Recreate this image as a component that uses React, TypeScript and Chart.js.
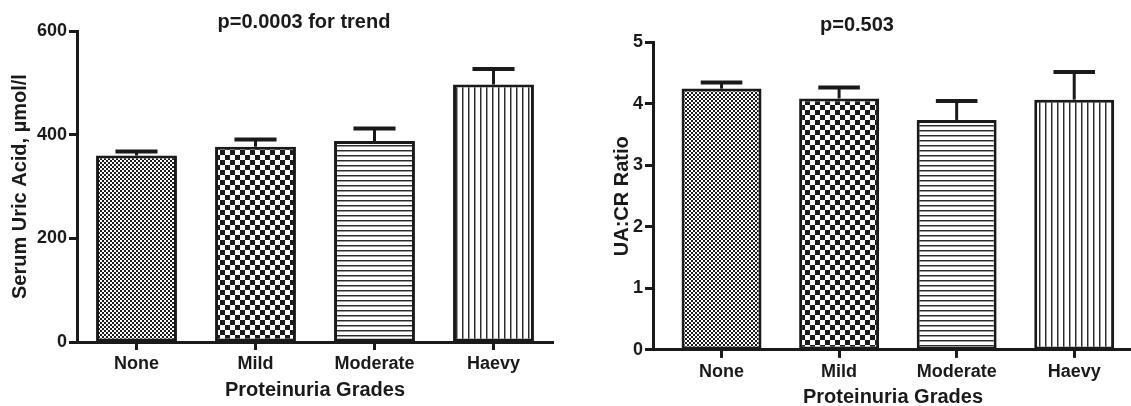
import React, { useEffect, useRef } from 'react';
import { Chart, registerables } from 'chart.js';

Chart.register(...registerables);

// ---------- data ----------
const CATEGORIES = ['None', 'Mild', 'Moderate', 'Haevy'];
const URIC_ACID_MEANS = [360, 377, 388, 497];
const URIC_ACID_ERRORS = [8, 14, 24, 30];
const UACR_MEANS = [4.25, 4.09, 3.74, 4.07];
const UACR_ERRORS = [0.1, 0.18, 0.31, 0.45];
const LEFT_Y_TICKS = [0, 200, 400, 600];
const RIGHT_Y_TICKS = [0, 1, 2, 3, 4, 5];
const LEFT_TITLE = 'p=0.0003 for trend';
const RIGHT_TITLE = 'p=0.503';
const X_TITLE = 'Proteinuria Grades';
const LEFT_Y_TITLE = 'Serum Uric Acid, µmol/l';
const RIGHT_Y_TITLE = 'UA:CR Ratio';
const PATTERN_KINDS = ['fineCheck', 'coarseCheck', 'hLines', 'vLines'];

const INK = '#1a1a1a';
const FONT = '"Liberation Sans", Arial, sans-serif';

function makePattern(kind: string): CanvasPattern | string {
  const c = document.createElement('canvas');
  let ctx: CanvasRenderingContext2D;
  if (kind === 'fineCheck') {
    c.width = 4; c.height = 4;
    ctx = c.getContext('2d')!;
    ctx.fillStyle = INK; ctx.fillRect(0, 0, 4, 4);
    ctx.fillStyle = '#ffffff';
    ctx.fillRect(0, 0, 2, 2); ctx.fillRect(2, 2, 2, 2);
  } else if (kind === 'coarseCheck') {
    c.width = 10; c.height = 10;
    ctx = c.getContext('2d')!;
    ctx.fillStyle = '#ffffff'; ctx.fillRect(0, 0, 10, 10);
    ctx.fillStyle = INK;
    ctx.fillRect(0, 0, 5, 5); ctx.fillRect(5, 5, 5, 5);
  } else if (kind === 'hLines') {
    c.width = 4; c.height = 5;
    ctx = c.getContext('2d')!;
    ctx.fillStyle = '#ffffff'; ctx.fillRect(0, 0, 4, 5);
    ctx.fillStyle = '#2a2a2a'; ctx.fillRect(0, 0, 4, 1);
    ctx.fillStyle = '#9a9a9a'; ctx.fillRect(0, 1, 4, 1);
  } else {
    c.width = 6; c.height = 4;
    ctx = c.getContext('2d')!;
    ctx.fillStyle = '#ffffff'; ctx.fillRect(0, 0, 6, 4);
    ctx.fillStyle = '#2a2a2a'; ctx.fillRect(0, 0, 1, 4);
    ctx.fillStyle = '#9a9a9a'; ctx.fillRect(1, 0, 1, 4);
  }
  return ctx.createPattern(c, 'repeat') || INK;
}

const errorBarPlugin = {
  id: 'errorBars',
  afterDatasetsDraw(chart: any, _args: any, opts: any) {
    const errors: number[] = opts.errors || [];
    const ctx = chart.ctx;
    const meta = chart.getDatasetMeta(0);
    const yScale = chart.scales.y;
    const data = chart.data.datasets[0].data;
    ctx.save();
    ctx.strokeStyle = INK;
    ctx.lineCap = 'butt';
    meta.data.forEach((bar: any, i: number) => {
      const top = yScale.getPixelForValue(data[i].y + errors[i]);
      const half = bar.width * 0.26;
      ctx.lineWidth = 3;
      ctx.beginPath();
      ctx.moveTo(bar.x, bar.y);
      ctx.lineTo(bar.x, top);
      ctx.stroke();
      ctx.lineWidth = 4;
      ctx.beginPath();
      ctx.moveTo(bar.x - half, top);
      ctx.lineTo(bar.x + half, top);
      ctx.stroke();
    });
    ctx.restore();
  },
};

interface PanelSpec {
  means: number[];
  errors: number[];
  yTicks: number[];
  title: string;
  yTitle: string;
  xMin: number;
  padLeft: number;
  padRight: number;
  yAxisWidth: number;
  yTitlePad: number;
  titlePad: { top: number; bottom: number };
  xTitlePad: { top: number; bottom: number };
  dummyRight: number;
}

function buildConfig(spec: PanelSpec): any {
  const patterns = PATTERN_KINDS.map(makePattern);
  const tickFont = { family: FONT, size: 18, weight: 'bold' as const };
  const titleFont = { family: FONT, size: 20, weight: 'bold' as const };
  const scales: any = {
    x: {
      type: 'linear',
      min: spec.xMin,
      max: CATEGORIES.length - 0.5,
      offset: false,
      afterBuildTicks: (s: any) => {
        s.ticks = CATEGORIES.map((_, i) => ({ value: i }));
      },
      ticks: {
        callback: (v: number) => CATEGORIES[v],
        font: tickFont,
        color: INK,
        padding: 3,
        autoSkip: false,
        maxRotation: 0,
      },
      grid: {
        display: true,
        offset: false,
        drawOnChartArea: false,
        drawTicks: true,
        tickLength: 8,
        tickWidth: 3,
        tickColor: INK,
      },
      border: { display: true, width: 3, color: INK },
      title: {
        display: true,
        text: X_TITLE,
        font: titleFont,
        color: INK,
        padding: spec.xTitlePad,
      },
    },
    y: {
      type: 'linear',
      min: spec.yTicks[0],
      max: spec.yTicks[spec.yTicks.length - 1],
      afterBuildTicks: (s: any) => {
        s.ticks = spec.yTicks.map((v) => ({ value: v }));
      },
      afterFit: (s: any) => {
        s.width = spec.yAxisWidth;
      },
      ticks: { font: tickFont, color: INK, padding: 2 },
      grid: {
        display: true,
        drawOnChartArea: false,
        drawTicks: true,
        tickLength: 8,
        tickWidth: 3,
        tickColor: INK,
      },
      border: { display: true, width: 3, color: INK },
      title: {
        display: true,
        text: spec.yTitle,
        font: titleFont,
        color: INK,
        padding: { top: spec.yTitlePad, bottom: 0 },
      },
    },
  };
  if (spec.dummyRight > 0) {
    scales.y2 = {
      type: 'linear',
      position: 'right',
      display: true,
      ticks: { display: false },
      grid: { display: false },
      border: { display: false },
      title: { display: false },
      afterFit: (s: any) => {
        s.width = spec.dummyRight;
      },
    };
  }
  return {
    type: 'bar',
    data: {
      datasets: [
        {
          data: spec.means.map((v, i) => ({ x: i, y: v })),
          backgroundColor: patterns,
          borderColor: INK,
          borderWidth: 3,
          borderSkipped: false,
          barPercentage: 0.68,
          categoryPercentage: 1,
        },
      ],
    },
    options: {
      responsive: false,
      animation: false,
      devicePixelRatio: 1,
      layout: { padding: { left: spec.padLeft, right: spec.padRight, top: 0, bottom: 0 } },
      plugins: {
        legend: { display: false },
        tooltip: { enabled: false },
        title: {
          display: true,
          text: spec.title,
          font: { family: FONT, size: 20, weight: 'bold' },
          color: INK,
          padding: spec.titlePad,
        },
        errorBars: { errors: spec.errors },
      },
      scales,
    },
    plugins: [errorBarPlugin],
  };
}

const LEFT_SPEC: PanelSpec = {
  means: URIC_ACID_MEANS,
  errors: URIC_ACID_ERRORS,
  yTicks: LEFT_Y_TICKS,
  title: LEFT_TITLE,
  yTitle: LEFT_Y_TITLE,
  xMin: -0.5,
  padLeft: 0,
  padRight: 0,
  yAxisWidth: 77,
  yTitlePad: 8,
  titlePad: { top: 10, bottom: -2.8 },
  xTitlePad: { top: 0.4, bottom: 4 },
  dummyRight: 55,
};

const RIGHT_SPEC: PanelSpec = {
  means: UACR_MEANS,
  errors: UACR_ERRORS,
  yTicks: RIGHT_Y_TICKS,
  title: RIGHT_TITLE,
  yTitle: RIGHT_Y_TITLE,
  xMin: -0.583,
  padLeft: 16,
  padRight: 7,
  yAxisWidth: 72,
  yTitlePad: 29,
  titlePad: { top: 13, bottom: 5.5 },
  xTitlePad: { top: 0, bottom: 0.5 },
  dummyRight: 0,
};

function Panel({ spec, left, width, height }: { spec: PanelSpec; left: number; width: number; height: number }) {
  const ref = useRef<HTMLCanvasElement | null>(null);
  useEffect(() => {
    if (!ref.current) return;
    const chart = new Chart(ref.current, buildConfig(spec));
    return () => chart.destroy();
  }, [spec]);
  return (
    <canvas
      ref={ref}
      width={width}
      height={height}
      style={{ position: 'absolute', left, top: 0, width, height }}
    />
  );
}

export default function App() {
  return (
    <div
      style={{
        position: 'fixed',
        left: 0,
        top: 0,
        width: 1131,
        height: 406,
        overflow: 'hidden',
        background: '#ffffff',
      }}
    >
      <Panel spec={LEFT_SPEC} left={0} width={608} height={406} />
      <Panel spec={RIGHT_SPEC} left={565} width={575} height={410} />
    </div>
  );
}
